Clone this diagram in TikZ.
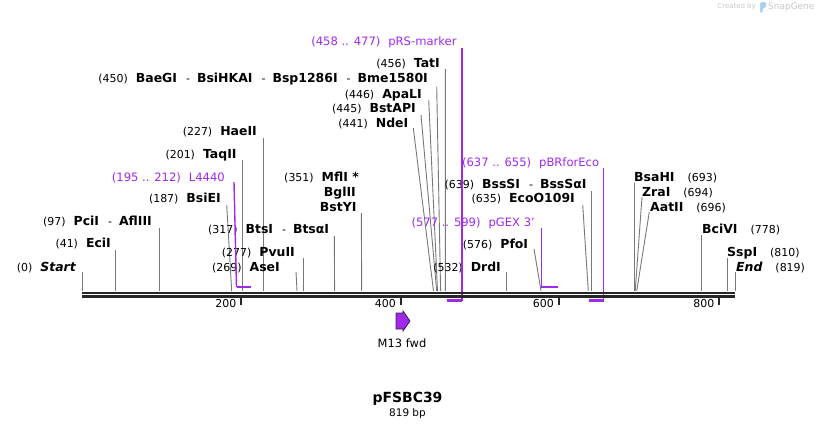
\documentclass[tikz,border=0pt]{standalone}
\usepackage{fontspec}
\setmainfont{DejaVu Sans}
\definecolor{feat}{RGB}{160,40,235}
\definecolor{featdark}{RGB}{60,30,80}
\definecolor{cutc}{RGB}{120,120,120}
\definecolor{bbc}{RGB}{38,38,38}
\definecolor{wm}{RGB}{200,200,200}
\definecolor{wmblue}{RGB}{170,210,240}
\newcommand\gp{\hspace{8bp}}
\newcommand\dsh{\hspace{9bp}-\hspace{7bp}}
\newcommand\gr{\hspace{13bp}}
\newcommand\B[1]{{\fontsize{12.5}{14}\selectfont\bfseries #1}}
% left-hand cut site: name, text right x, text y, label, line top x, top y, bottom x
\newcommand\cutL[7]{%
  \node[lblL] (#1) at (#2,#3) {#4};
  \coordinate (#1t) at (#5,#6);
  \coordinate (#1b) at (#7,291);
  \draw[cut] (#1t) -- (#1b);}
\newcommand\cutR[7]{%
  \node[lblR] (#1) at (#2,#3) {#4};
  \coordinate (#1t) at (#5,#6);
  \coordinate (#1b) at (#7,291);
  \draw[cut] (#1t) -- (#1b);}
\begin{document}
\begin{tikzpicture}[x=1bp,y=-1bp,
  txt/.style={inner sep=0pt, font=\fontsize{11}{13}\selectfont},
  lblL/.style={txt, anchor=base east, yshift=-4bp},
  lblR/.style={txt, anchor=base west, yshift=-4bp},
  flbl/.style={lblL, text=feat, font=\fontsize{11.6}{13}\selectfont},
  cut/.style={draw=cutc, line width=0.9bp},
  fline/.style={draw=feat, line width=1.4bp},
  fbar/.style={draw=feat, line width=2.6bp},
  bb/.style={draw=bbc, line width=2.6bp},
  tick/.style={draw=bbc, line width=2bp},
  ticklbl/.style={txt, anchor=east}
]
\useasboundingbox (0,0) rectangle (818,430);

% watermark
\node[inner sep=0pt, anchor=east, text=wm, font=\fontsize{7}{8}\selectfont] (wm1) at (756,7) {Created by};
\fill[wmblue, rounded corners=1.5bp] (760,2) -- (766,2) -- (766,8) -- (762.5,8) -- (762.5,13) -- (760,13) -- cycle;
\node[inner sep=0pt, anchor=west, text=wm, font=\fontsize{9}{10}\selectfont] (wm2) at (768,7) {SnapGene};

% enzyme lines and labels (left side)
\cutL{Start}{76}{267}{(0)\gp\B{\itshape Start}}{82}{272}{82}
\cutL{EciI}{111}{243}{(41)\gp\B{EciI}}{115}{250}{115}
\cutL{PciI}{152}{221}{(97)\gp\B{PciI}\dsh\B{AflIII}}{159}{228}{159}
\cutL{BsiEI}{221}{198}{(187)\gp\B{BsiEI}}{226.7}{205}{231.7}
\cutL{TaqII}{236.7}{154}{(201)\gp\B{TaqII}}{242}{160}{242}
\cutL{HaeII}{257}{131}{(227)\gp\B{HaeII}}{263}{138}{263}
\cutL{AseI}{280}{267}{(269)\gp\B{AseI}}{296}{272}{297}
\cutL{PvuII}{295}{252}{(277)\gp\B{PvuII}}{303}{258}{303}
\cutL{BtsI}{329.3}{229}{(317)\gp\B{BtsI}\dsh\B{BtsαI}}{334.3}{236}{334.6}
\cutL{NdeI}{408.5}{123}{(441)\gp\B{NdeI}}{413.3}{128}{433.5}
\cutL{BstAPI}{416}{108}{(445)\gp\B{BstAPI}}{421}{115}{436.7}
\cutL{ApaLI}{422}{94}{(446)\gp\B{ApaLI}}{428.7}{100}{437.5}
\cutL{BaeGI}{428}{78}{(450)\gp\B{BaeGI}\dsh\B{BsiHKAI}\dsh\B{Bsp1286I}\dsh\B{Bme1580I}}{436.7}{86.7}{440.6}
\cutL{TatI}{440}{63}{(456)\gp\B{TatI}}{445.3}{69}{445.4}
\cutL{DrdI}{501}{267}{(532)\gp\B{DrdI}}{506.7}{272}{506.7}
\cutL{PfoI}{528.3}{244}{(576)\gp\B{PfoI}}{534}{249}{541}
\cutL{EcoO}{575}{198}{(635)\gp\B{EcoO109I}}{582.7}{205}{588.3}
\cutL{BssSI}{586.7}{184}{(639)\gp\B{BssSI}\dsh\B{BssSαI}}{591.7}{191}{591.7}

% MflI / BglII / BstYI group
\node[lblL] (MflI) at (359,177) {(351)\gp\B{MflI *}};
\node[lblL] (BglII) at (356,192) {\B{BglII}};
\node[lblL] (BstYI) at (356.7,207) {\B{BstYI}};
\coordinate (MflIt) at (361.3,213);
\coordinate (MflIb) at (361.7,291);
\draw[cut] (MflIt) -- (MflIb);

% right side
\cutR{BsaHI}{634}{177}{\B{BsaHI}\gr(693)}{634.3}{183}{634.3}
\cutR{ZraI}{642}{192}{\B{ZraI}\gr(694)}{642}{197}{635.2}
\cutR{AatII}{650}{207}{\B{AatII}\gr(696)}{649.3}{212}{636.7}
\cutR{BciVI}{702}{229}{\B{BciVI}\gr(778)}{701.7}{235}{701.7}
\cutR{SspI}{727}{252}{\B{SspI}\gr(810)}{727.3}{258}{727.3}
\cutR{End}{736}{267}{\B{\itshape End}\gr(819)}{735}{272}{735}

% primer features
\node[flbl] (pRS) at (456.7,41) {(458 .. 477)\gp pRS-marker};
\coordinate (pRSt) at (462,48);
\coordinate (pRSa) at (462,300.7);
\coordinate (pRSb) at (447,300.7);
\draw[fline] (pRSt) -- (pRSa);
\draw[fbar] (pRSa) -- (pRSb);

\node[flbl] (L4440) at (225,177) {(195 .. 212)\gp L4440};
\coordinate (L4440t) at (234,182);
\coordinate (L4440a) at (236.5,287);
\coordinate (L4440b) at (251,287);
\draw[fline] (L4440t) -- (L4440a);
\draw[fbar] (L4440a) -- (L4440b);

\node[flbl] (pGEX) at (535,222) {(577 .. 599)\gp pGEX 3'};
\coordinate (pGEXt) at (541.3,228);
\coordinate (pGEXa) at (541.3,287);
\coordinate (pGEXb) at (558,287);
\draw[fline] (pGEXt) -- (pGEXa);
\draw[fbar] (pGEXa) -- (pGEXb);

\node[flbl] (pBR) at (599.3,162) {(637 .. 655)\gp pBRforEco};
\coordinate (pBRt) at (603.6,168);
\coordinate (pBRa) at (603.6,300.7);
\coordinate (pBRb) at (589.3,300.7);
\draw[fline] (pBRt) -- (pBRa);
\draw[fbar] (pBRa) -- (pBRb);

% backbone
\coordinate (bbL1) at (82,292.8);
\coordinate (bbR1) at (735,292.8);
\coordinate (bbL2) at (82,296.4);
\coordinate (bbR2) at (735,296.4);
\draw[bb] (bbL1) -- (bbR1);
\draw[bb] (bbL2) -- (bbR2);

% ticks
\foreach \tx/\tl in {241/200, 400.5/400, 558.5/600, 719/800}{
  \draw[tick] (\tx,296) -- (\tx,305);
  \node[ticklbl] at (\tx-4.5,304) {\tl};
}

% M13 fwd
\draw[draw=featdark, fill=feat, line width=0.8bp]
  (396,313) -- (403,313) -- (403,311) -- (410,321) -- (403,331) -- (403,329) -- (396,329) -- cycle;
\node[txt, font=\fontsize{11.5}{13}\selectfont] (M13) at (402,343) {M13 fwd};

% title
\node[inner sep=0pt, font=\fontsize{14}{16}\selectfont\bfseries] (title) at (407.5,399) {pFSBC39};
\node[inner sep=0pt, font=\fontsize{10.5}{12}\selectfont] (len) at (407.5,414) {819 bp};
\end{tikzpicture}
\end{document}
